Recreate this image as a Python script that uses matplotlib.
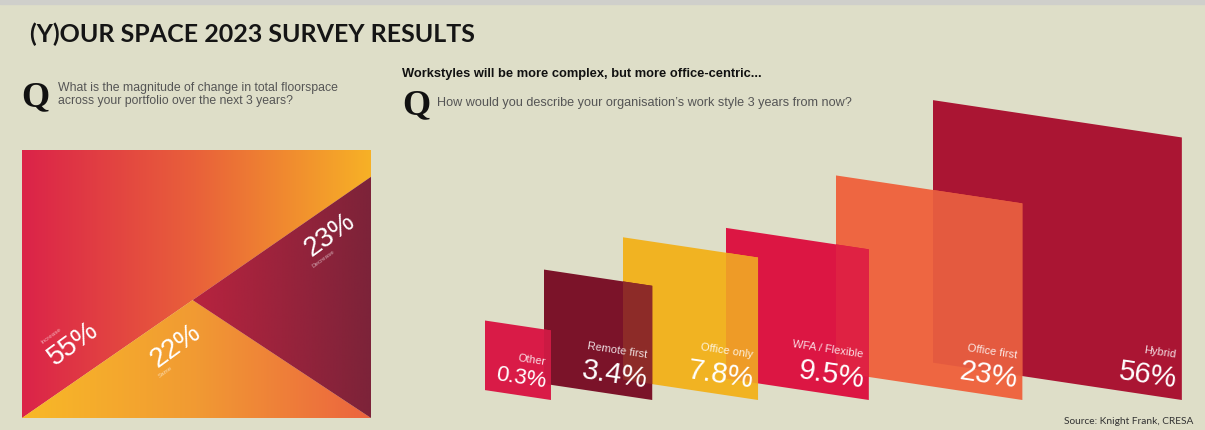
import numpy as np
import matplotlib
matplotlib.use("Agg")
import matplotlib.pyplot as plt
from matplotlib.patches import Polygon, Rectangle
from matplotlib.colors import LinearSegmentedColormap, to_rgb

# Floorspace change question (left panel)
change_labels = ["Increase", "Same", "Decrease"]
change_shares = [55, 22, 23]

# Work style question (right panel)
styles = ["Other", "Remote first", "Office only", "WFA / Flexible", "Office first", "Hybrid"]
style_shares = [0.3, 3.4, 7.8, 9.5, 23, 56]
style_colors = ["#D91B47", "#7B1329", "#F1B322", "#DC1643", "#EE6641", "#AA1533"]

BG = "#DEDEC8"
SANS = "Liberation Sans"

fig = plt.figure(figsize=(12.05, 4.30), dpi=100, facecolor=BG)
ax = fig.add_axes([0, 0, 1, 1])
ax.set_facecolor(BG)


def gradient_poly(verts, colors, x0, x1):
    """Fill a polygon with a left-to-right colour gradient."""
    poly = Polygon(verts, closed=True, facecolor="none", edgecolor="none")
    ax.add_patch(poly)
    cmap = LinearSegmentedColormap.from_list("g", colors)
    grad = np.linspace(0, 1, 256).reshape(1, -1)
    ys = [v[1] for v in verts]
    im = ax.imshow(grad, cmap=cmap, extent=(x0, x1, max(ys), min(ys)),
                   aspect="auto", interpolation="bicubic", zorder=2)
    im.set_clip_path(poly)


# top strip
ax.add_patch(Rectangle((0, 0), 1205, 4, color="#CFCFCB", zorder=1))

ax.text(30, 34, "(Y)OUR SPACE 2023 SURVEY RESULTS", family="Lato", fontweight="bold",
        fontsize=18, color="#151515", va="center", ha="left")

# ---- left panel: floorspace split ----
ax.text(21, 98, "Q", family="Liberation Serif", fontweight="bold", fontsize=26,
        va="center", ha="left", color="#111")
ax.text(58, 88, "What is the magnitude of change in total floorspace", family=SANS,
        fontsize=8.8, color="#555", va="center")
ax.text(58, 101, "across your portfolio over the next 3 years?", family=SANS,
        fontsize=8.8, color="#555", va="center")

L, R, T, B = 22, 371, 150, 418
W, H = R - L, B - T
tot = sum(change_shares)
inc, same, dec = [s / tot for s in change_shares]
# "Same" triangle sits on the bottom edge; "Decrease" hangs off the right edge;
# the apex lies on the diagonal from the bottom-left corner
h_same = 2 * same * H              # height of apex above the bottom edge
s_right = h_same + 2 * dec * H      # length of the right-edge segment
cx = L + W * h_same / s_right
cy = B - h_same
yr = B - s_right

gradient_poly([(L, T), (R, T), (R, yr), (cx, cy), (L, B)],
              ["#DB2349", "#E9613A", "#F7B126"], L, R)
gradient_poly([(L, B), (cx, cy), (R, B)],
              ["#F8B927", "#F19A33", "#EC643F"], L, R)
gradient_poly([(cx, cy), (R, yr), (R, B)],
              ["#B8233F", "#7C2339"], cx, R)

ang = 36
big = dict(family=SANS, fontsize=20, color="white", rotation=ang,
           rotation_mode="anchor", ha="center", va="center", zorder=5)
small = dict(family=SANS, fontsize=4.5, color="white", alpha=0.6, rotation=ang,
             rotation_mode="anchor", ha="center", va="center", zorder=5)
num_pos = [(73, 344), (176, 346), (330, 235)]
tag_pos = [(51, 336), (165, 372), (323, 259)]
for lab, share, (nx, ny), (tx, ty) in zip(change_labels, change_shares, num_pos, tag_pos):
    ax.text(nx, ny, f"{share}%", **big)
    ax.text(tx, ty, lab, **small)

# ---- right panel: work styles ----
ax.text(402, 74, "Workstyles will be more complex, but more office-centric...", family=SANS,
        fontweight="bold", fontsize=9.3, color="#111", va="center")
ax.text(402, 106, "Q", family="Liberation Serif", fontweight="bold", fontsize=26,
        va="center", ha="left", color="#111")
ax.text(437, 103, "How would you describe your organisation\u2019s work style 3 years from now?",
        family=SANS, fontsize=9.1, color="#555", va="center")

x_left = [485, 544, 623, 726, 836, 933]
base = 400
skew = 0.15
tilt = -np.degrees(np.arctan(skew))
see_through = 0.85

sides = [40.2 + 41.7 * v ** 0.4 for v in style_shares]
boxes = []
for i, v in enumerate(style_shares):
    w = sides[i]
    boxes.append((x_left[i], x_left[i] + w, 1.055 * w))


def edge_y(box, x, top):
    x0, x1, h = box
    y = base - skew * (x1 - x)
    return y - h if top else y


n = len(styles)
for i in reversed(range(n)):
    x0, x1, h = boxes[i]
    w = x1 - x0
    verts = [(x0, edge_y(boxes[i], x0, False)), (x0, edge_y(boxes[i], x0, True)),
             (x1, edge_y(boxes[i], x1, True)), (x1, edge_y(boxes[i], x1, False))]
    z = 10 + (n - i) * 3
    ax.add_patch(Polygon(verts, closed=True, facecolor=style_colors[i], edgecolor="none", zorder=z))

    # where this box covers the one behind it, let the back colour show through a little
    if i + 1 < n:
        back = boxes[i + 1]
        xa, xb = max(x0, back[0]), min(x1, back[1])
        if xb > xa:
            ov = []
            for xx in (xa, xb):
                ov.append((xx, max(edge_y(boxes[i], xx, True), edge_y(back, xx, True))))
            for xx in (xb, xa):
                ov.append((xx, min(edge_y(boxes[i], xx, False), edge_y(back, xx, False))))
            mix = see_through * np.array(to_rgb(style_colors[i])) + \
                (1 - see_through) * np.array(to_rgb(style_colors[i + 1]))
            ax.add_patch(Polygon(ov, closed=True, facecolor=mix, edgecolor="none", zorder=z + 0.5))

    small_box = w < 80
    ax.text(x1 - 6, base - 12, f"{style_shares[i]:g}%", family=SANS,
            fontsize=16 if small_box else 21, color="white", ha="right", va="baseline",
            rotation=tilt, rotation_mode="anchor", zorder=z + 1)
    ax.text(x1 - 6, base - (35 if small_box else 42), styles[i], family=SANS,
            fontsize=8, color="white", alpha=0.85, ha="right", va="baseline",
            rotation=tilt, rotation_mode="anchor", zorder=z + 1)

ax.text(1193, 421, "Source: Knight Frank, CRESA", family="Lato", fontsize=7.3,
        color="#333", ha="right", va="center")

ax.set_xlim(0, 1205)
ax.set_ylim(430, 0)
ax.axis("off")

fig.savefig("out.png", dpi=100, facecolor=BG)
